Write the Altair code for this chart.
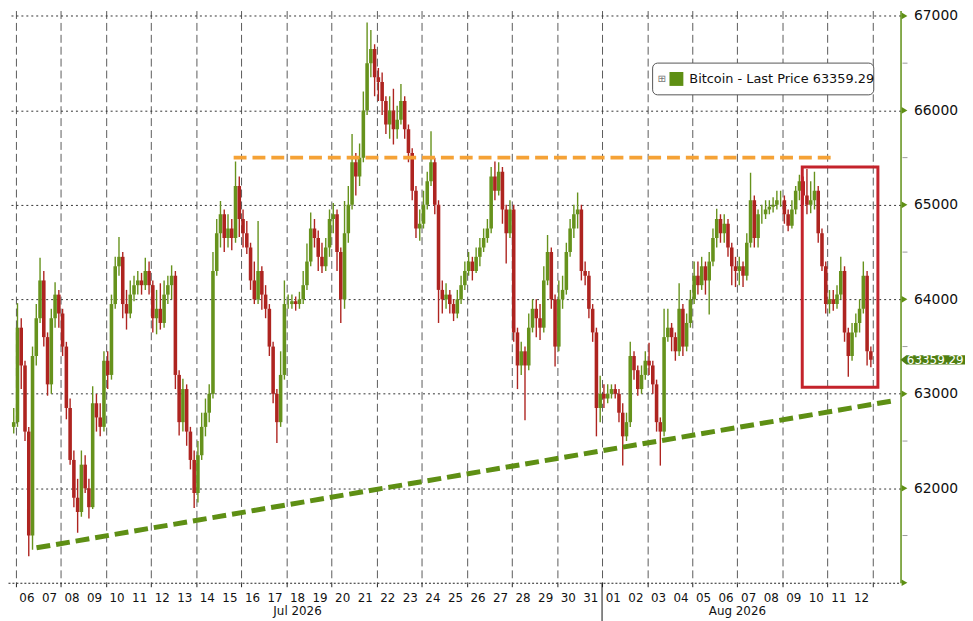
import altair as alt
import pandas as pd

# ---------------- data (4-hour candles) ----------------
OPEN0 = 62650
close = [
    62700,                                      # Jul 05 20h
    63700, 63300, 62600, 61500, 63400, 63800,   # Jul 06
    64200, 63600, 63100, 63800, 64050, 63850,   # Jul 07
    63500, 62850, 62300, 61900, 61750, 62250,   # Jul 08
    62000, 61800, 62900, 62750, 62650, 63350,   # Jul 09
    63200, 63950, 64350, 64450, 63950, 63850,   # Jul 10
    64050, 64150, 64200, 64150, 64300, 64150,   # Jul 11
    63800, 63900, 63750, 64050, 64150, 64250,   # Jul 12
    63200, 62700, 63050, 62600, 62300, 61950,   # Jul 13
    62350, 62650, 62800, 63000, 64300, 64700,   # Jul 14
    64900, 64650, 64750, 64650, 65200, 64850,   # Jul 15
    64700, 64550, 64200, 64000, 64300, 64050,   # Jul 16
    63900, 63500, 63000, 62700, 63200, 63950,   # Jul 17
    63950, 63980, 63950, 64000, 64150, 64400,   # Jul 18
    64750, 64650, 64450, 64350, 64550, 64850,   # Jul 19
    64900, 64500, 64000, 64700, 65000, 65450,   # Jul 20
    65300, 65500, 66000, 66500, 66650, 66350,   # Jul 21
    66300, 66100, 65850, 66000, 65800, 65900,   # Jul 22
    66100, 65800, 65550, 65150, 64750, 64800,   # Jul 23
    65000, 65250, 65450, 65000, 64100, 64000,   # Jul 24
    64050, 63950, 63850, 64000, 64150, 64300,   # Jul 25
    64400, 64300, 64450, 64550, 64650, 64750,   # Jul 26
    65300, 65150, 65350, 64950, 64700, 64950,   # Jul 27
    63650, 63300, 63450, 63300, 63700, 63900,   # Jul 28
    63800, 63700, 64200, 64500, 64000, 63500,   # Jul 29
    64000, 64100, 64500, 64750, 64900, 64950,   # Jul 30
    64300, 64250, 63900, 63650, 62850, 63000,   # Jul 31
    62950, 63000, 63050, 63000, 62800, 62550,   # Aug 01
    62700, 63400, 63250, 63050, 63200, 63350,   # Aug 02
    63300, 63100, 62700, 62600, 63600, 63700,   # Aug 03
    63600, 63450, 63900, 63500, 63750, 64000,   # Aug 04
    64250, 64150, 64350, 64200, 64400, 64650,   # Aug 05
    64850, 64700, 64800, 64550, 64350, 64300,   # Aug 06
    64350, 64250, 64600, 65050, 64650, 64900,   # Aug 07
    64900, 64950, 64980, 65000, 65050, 65050,   # Aug 08
    64900, 64780, 64950, 65150, 65250, 65100,   # Aug 09
    65000, 65050, 65150, 64700, 64350, 63950,   # Aug 10
    64000, 63950, 64050, 64300, 63650, 63400,   # Aug 11
    63650, 63750, 63900, 64250, 63450, 63359.29,  # Aug 12
]
high = [
    62850,
    63960, 63800, 63350, 62650, 63500, 63950,
    64440, 64300, 63650, 63900, 64180, 64100,
    63900, 63550, 62950, 62400, 62100, 62400,
    62350, 62100, 63080, 63000, 62900, 63450,
    63450, 64050, 64450, 64660, 64500, 64100,
    64200, 64250, 64300, 64280, 64440, 64400,
    64200, 64100, 64170, 64200, 64250, 64360,
    64300, 63250, 63160, 63100, 62650, 62400,
    62500, 62800, 62950, 63100, 64500, 64850,
    65040, 64950, 64900, 64850, 65460, 65300,
    64950, 64830, 64600, 64400, 64830, 64350,
    64150, 63950, 63550, 63050, 63450, 64200,
    64050, 64050, 64030, 64080, 64300, 64590,
    64920, 64850, 64730, 64600, 64650, 64950,
    65020, 64950, 64550, 65040, 65200, 65750,
    65550, 65650, 66200, 66930, 66850, 66700,
    66450, 66400, 66150, 66150, 66230, 66050,
    66280, 66150, 65850, 65600, 65200, 64950,
    65150, 65350, 65780, 65500, 65050, 64200,
    64170, 64100, 64000, 64100, 64250, 64400,
    64500, 64450, 64550, 64650, 64750, 64850,
    65400, 65460, 65450, 65400, 65000, 65050,
    65000, 63700, 63550, 63500, 63850, 64000,
    64000, 63950, 64350, 64680, 64550, 64050,
    64200, 64250, 64600, 64850, 65000, 65130,
    65000, 64400, 64300, 63950, 63700, 63190,
    63100, 63100, 63100, 63100, 63050, 62900,
    62800, 63550, 63450, 63300, 63300, 63450,
    63540, 63350, 63150, 62750, 63900, 63900,
    63750, 63650, 64170, 63950, 63850, 64100,
    64400, 64400, 64450, 64400, 64500, 64750,
    64960, 64900, 64900, 64850, 64600, 64450,
    64450, 64400, 64700, 65340, 65100, 64950,
    65000, 65050, 65050, 65080, 65150, 65150,
    65100, 64950, 65050, 65200, 65320, 65300,
    65380, 65250, 65350, 65200, 64750, 64400,
    64100, 64100, 64150, 64450, 64350, 63700,
    63750, 63850, 64000, 64400, 64300, 63500,
]
low = [
    62580,
    62650, 63050, 62500, 61280, 61350, 63300,
    63750, 63500, 62980, 63000, 63700, 63700,
    63400, 62730, 62250, 61800, 61530, 61700,
    61950, 61680, 61780, 62600, 62550, 62600,
    63050, 63150, 63900, 64250, 63800, 63680,
    63800, 63980, 64050, 64050, 64100, 64050,
    63650, 63630, 63680, 63700, 63950, 64000,
    63050, 62560, 62600, 62450, 62200, 61790,
    61850, 62300, 62550, 62700, 62950, 64250,
    64550, 64500, 64550, 64520, 64600, 64660,
    64550, 64480, 64100, 63950, 63950, 63890,
    63800, 63400, 62900, 62480, 62650, 63150,
    63900, 63900, 63880, 63900, 63950, 64100,
    64350, 64550, 64300, 64280, 64300, 64450,
    64700, 64300, 63750, 63900, 64600, 64950,
    65100, 65200, 65450, 65950, 66350, 66150,
    66100, 65950, 65750, 65700, 65640, 65700,
    65850, 65700, 65450, 65050, 64650, 64620,
    64750, 64950, 65200, 64900, 63750, 63850,
    63900, 63850, 63770, 63800, 63950, 64100,
    64250, 64200, 64280, 64350, 64500, 64600,
    64700, 65050, 65100, 64800, 64380, 64650,
    63550, 63050, 63200, 62720, 63250, 63650,
    63600, 63570, 63650, 64150, 63900, 63290,
    63450, 63900, 64050, 64450, 64650, 64750,
    64200, 64150, 63800, 63550, 62550, 62700,
    62850, 62900, 62950, 62950, 62700, 62240,
    62500, 62650, 63150, 62980, 63000, 63150,
    63200, 63000, 62600, 62240, 62550, 63550,
    63450, 63350, 63400, 63400, 63450, 63700,
    63950, 64050, 64100, 64050, 63840, 64350,
    64550, 64600, 64600, 64450, 64150, 64130,
    64150, 64130, 64200, 64550, 64550, 64550,
    64800, 64850, 64900, 64920, 64950, 64980,
    64800, 64720, 64750, 64900, 65050, 65000,
    64900, 64910, 64950, 64600, 64300, 63850,
    63850, 63880, 63900, 64000, 63550, 63180,
    63350, 63600, 63650, 63850, 63300, 63280,
]
last_price = 63359.29

resistance = {"start": "2026-07-15 16:00", "end": "2026-08-11 04:30", "value": 65500}
support = {"start": "2026-07-06 22:15", "start_value": 61370,
           "end": "2026-08-14 00:00", "end_value": 62930}
box = {"start": "2026-08-09 21:00", "end": "2026-08-13 05:30", "top": 65400, "bottom": 63070}

day_labels = ["06", "07", "08", "09", "10", "11", "12", "13", "14", "15", "16", "17",
              "18", "19", "20", "21", "22", "23", "24", "25", "26", "27", "28", "29",
              "30", "31", "01", "02", "03", "04", "05", "06", "07", "08", "09", "10",
              "11", "12"]
month_labels = ["Jul 2026", "Aug 2026"]
month_label_at = ["2026-07-18 12:00", "2026-08-07 00:00"]
y_major = [62000, 63000, 64000, 65000, 66000, 67000]
y_arrows = [61000, 62000, 63000, 64000, 65000, 66000, 67000]
y_minor = [61500, 62500, 63500, 64500, 65500, 66500]

# ---------------- helpers ----------------
def ms(ts):
    return int(pd.Timestamp(ts).value // 10**6)

DAY = 86400000
T0 = ms("2026-07-06 00:00")
W, H = 900, 577

GREEN = "#5e8f14"
CANDLE_GREEN = "#66921c"
RED = "#ae2420"
ORANGE = "#f5a236"
TAG = "#4f7f12"
FONT = "DejaVu Sans"

times = pd.date_range("2026-07-05 20:00", periods=len(close), freq="4h")
opens = [OPEN0] + close[:-1]
candles = pd.DataFrame({
    "t": [ms(t) + 2 * 3600 * 1000 for t in times],
    "open": opens, "close": close, "high": high, "low": low,
})

xs = alt.Scale(domain=[T0 - 0.1174 * DAY, T0 + 39.013 * DAY], nice=False)
ys = alt.Scale(domain=[61000, 67057], nice=False, zero=False)

color = alt.condition("datum.close >= datum.open", alt.value(CANDLE_GREEN), alt.value(RED))

x_axis = alt.Axis(values=[T0 + k * DAY for k in range(0, 39)], labels=False, title=None,
                  grid=True, gridDash=[8, 4], gridColor="#5a5a5a", gridWidth=1,
                  domainDash=[2, 2], domainColor="#222", tickColor="#222", tickSize=4)
y_axis = alt.Axis(orient="right", values=y_major, title=None, grid=True, format="d",
                  gridDash=[2, 3], gridColor="#333", domainColor=GREEN, domainWidth=1.5,
                  ticks=False, labelPadding=13, labelFont=FONT, labelFontSize=14,
                  labelColor="#111")

wicks = alt.Chart(candles).mark_rule(strokeWidth=1.4, clip=True).encode(
    x=alt.X("t:T", scale=xs, axis=x_axis),
    y=alt.Y("low:Q", scale=ys, axis=y_axis),
    y2="high:Q",
    color=color,
)
bodies = alt.Chart(candles).mark_bar(size=3.6, clip=True).encode(
    x=alt.X("t:T", scale=xs), y=alt.Y("open:Q", scale=ys), y2="close:Q", color=color,
)

res_df = pd.DataFrame({"t": [ms(resistance["start"]), ms(resistance["end"])],
                       "v": [resistance["value"]] * 2})
res_line = alt.Chart(res_df).mark_line(color=ORANGE, strokeWidth=4, strokeDash=[13, 6]).encode(
    x=alt.X("t:T", scale=xs), y=alt.Y("v:Q", scale=ys))

sup_df = pd.DataFrame({"t": [ms(support["start"]), ms(support["end"])],
                       "v": [support["start_value"], support["end_value"]]})
sup_line = alt.Chart(sup_df).mark_line(color=GREEN, strokeWidth=5, strokeDash=[14, 6]).encode(
    x=alt.X("t:T", scale=xs), y=alt.Y("v:Q", scale=ys))

box_df = pd.DataFrame({"t": [ms(box["start"])], "t2": [ms(box["end"])],
                       "v": [box["top"]], "v2": [box["bottom"]]})
box_mark = alt.Chart(box_df).mark_rect(fillOpacity=0, stroke="#c4232b", strokeWidth=3).encode(
    x=alt.X("t:T", scale=xs), x2="t2:T", y=alt.Y("v:Q", scale=ys), y2="v2:Q")

days_df = pd.DataFrame({"t": [T0 + int((k + 0.5) * DAY) for k in range(len(day_labels))],
                        "lab": day_labels})
day_text = alt.Chart(days_df).mark_text(font=FONT, fontSize=12, color="#111",
                                        baseline="middle").encode(
    x=alt.X("t:T", scale=xs), y=alt.value(H + 15), text="lab:N")

mon_df = pd.DataFrame({"t": [ms(s) for s in month_label_at], "lab": month_labels})
mon_text = alt.Chart(mon_df).mark_text(font=FONT, fontSize=12, color="#111",
                                       baseline="middle").encode(
    x=alt.X("t:T", scale=xs), y=alt.value(H + 29), text="lab:N")

sep_df = pd.DataFrame({"t": [ms("2026-08-01 00:00")]})
sep = alt.Chart(sep_df).mark_rule(color="#111", strokeWidth=1).encode(
    x=alt.X("t:T", scale=xs), y=alt.value(H), y2=alt.value(H + 40))

arr_df = pd.DataFrame({"v": y_arrows})
arrows = alt.Chart(arr_df).mark_point(shape="triangle-right", filled=True, size=45,
                                      color=GREEN, opacity=1).encode(
    x=alt.value(W + 4), y=alt.Y("v:Q", scale=ys))

minor_df = pd.DataFrame({"v": y_minor})
minor = alt.Chart(minor_df).mark_rule(color="#9a9a9a", strokeWidth=1).encode(
    x=alt.value(W + 2), x2=alt.value(W + 7), y=alt.Y("v:Q", scale=ys))

one = pd.DataFrame({"k": [0]})
leg_box = alt.Chart(one).mark_rect(fill="white", stroke="#555", strokeWidth=1,
                                   cornerRadius=5).encode(
    x=alt.value(650), x2=alt.value(873), y=alt.value(53), y2=alt.value(85))
leg_icon = alt.Chart(one).mark_text(text="⊞", font=FONT, fontSize=10, color="#777").encode(
    x=alt.value(659), y=alt.value(69))
leg_sq = alt.Chart(one).mark_rect(fill=GREEN).encode(
    x=alt.value(667), x2=alt.value(681), y=alt.value(62), y2=alt.value(76))
leg_text = alt.Chart(one).mark_text(text=f"Bitcoin - Last Price {last_price:.2f}", font=FONT,
                                    fontSize=13, color="#111", align="left",
                                    baseline="middle").encode(
    x=alt.value(687), y=alt.value(69))

tag_df = pd.DataFrame({"v": [last_price], "lab": [f"{last_price:.2f}"]})
tag_shape = "M-1,0L-0.82,-0.14L1,-0.14L1,0.14L-0.82,0.14Z"
tag = alt.Chart(tag_df).mark_point(shape=tag_shape, filled=True, size=65 * 65, color=TAG,
                                   opacity=1, strokeWidth=0).encode(
    x=alt.value(W + 32.5), y=alt.Y("v:Q", scale=ys))
tag_text = alt.Chart(tag_df).mark_text(font=FONT, fontSize=12, color="white",
                                       baseline="middle").encode(
    x=alt.value(W + 35), y=alt.Y("v:Q", scale=ys), text="lab:N")

chart = alt.layer(
    wicks, bodies, res_line, sup_line, box_mark, day_text, mon_text, sep,
    minor, arrows, leg_box, leg_icon, leg_sq, leg_text, tag, tag_text,
).properties(
    width=W, height=H,
    autosize=alt.AutoSizeParams(type="none"),
    padding={"left": 0, "top": 0, "right": 65, "bottom": 36},
    background="white",
).configure_view(stroke=None)

chart.save("out.html", embed_options={"renderer": "svg", "actions": False})
